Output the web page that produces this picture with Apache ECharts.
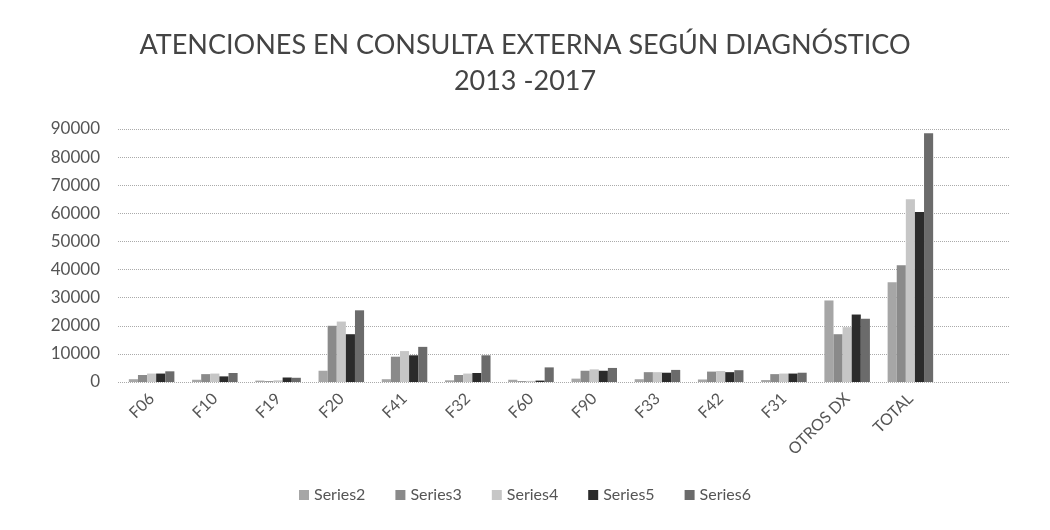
<!DOCTYPE html>
<html>
<head>
<meta charset="utf-8">
<script src="https://cdn.jsdelivr.net/npm/echarts@6/dist/echarts.min.js"></script>
<style>
  html, body { margin: 0; padding: 0; background: #fff; }
  #chart { width: 1050px; height: 530px; }
</style>
</head>
<body>
<div id="chart"></div>
<script>
const titleLine1 = 'ATENCIONES EN CONSULTA EXTERNA SEGÚN DIAGNÓSTICO';
const titleLine2 = '2013 -2017';
const categories = ['F06', 'F10', 'F19', 'F20', 'F41', 'F32', 'F60', 'F90', 'F33', 'F42', 'F31', 'OTROS DX', 'TOTAL'];
const seriesNames = ['Series2', 'Series3', 'Series4', 'Series5', 'Series6'];
const series2 = [1000, 800, 500, 4000, 1000, 600, 800, 1200, 1000, 900, 700, 29000, 35500];
const series3 = [2500, 2800, 300, 20000, 9000, 2500, 300, 4000, 3500, 3700, 2800, 17000, 41500];
const series4 = [3000, 3000, 600, 21500, 11000, 3000, 400, 4500, 3500, 3900, 3000, 19500, 65000];
const series5 = [3000, 2000, 1600, 17000, 9500, 3200, 500, 4000, 3300, 3500, 3000, 24000, 60500];
const series6 = [3800, 3200, 1500, 25500, 12500, 9500, 5200, 5000, 4300, 4200, 3300, 22500, 88500];
const yTicks = { min: 0, max: 90000, interval: 10000 };
const seriesValues = [series2, series3, series4, series5, series6];
const colors = ['#a6a6a6', '#8a8a8a', '#c6c6c6', '#2b2b2b', '#6b6b6b'];

const font = 'Lato, "Noto Sans", sans-serif';
const chart = echarts.init(document.getElementById('chart'));
chart.setOption({
  animation: false,
  backgroundColor: '#fff',
  title: {
    text: titleLine1 + '\n' + titleLine2,
    left: 'center',
    top: 22,
    textStyle: { fontFamily: font, fontSize: 27, fontWeight: 'normal', color: '#444', lineHeight: 36 }
  },
  legend: {
    data: seriesNames,
    bottom: 22,
    left: 'center',
    itemWidth: 10,
    itemHeight: 10,
    itemGap: 30,
    icon: 'rect',
    textStyle: { fontFamily: font, fontSize: 16, color: '#555' }
  },
  grid: [
    { left: 118, right: 40, top: 129, bottom: 148 },
    { left: 120, right: 108, top: 129, bottom: 148 }
  ],
  xAxis: [
    { gridIndex: 0, type: 'category', data: categories, show: false },
    {
      gridIndex: 1, type: 'category', data: categories,
      axisLine: { show: false }, axisTick: { show: false },
      axisLabel: { rotate: 45, margin: 14, interval: 0, fontFamily: font, fontSize: 16, color: '#555' }
    }
  ],
  yAxis: [
    {
      gridIndex: 0, type: 'value', min: yTicks.min, max: yTicks.max, interval: yTicks.interval,
      axisLine: { show: false }, axisTick: { show: false },
      axisLabel: { margin: 18, fontFamily: font, fontSize: 17, color: '#555', formatter: v => String(v) },
      splitLine: { lineStyle: { color: '#aaa', type: 'dotted', width: 1 } }
    },
    {
      gridIndex: 1, type: 'value', min: yTicks.min, max: yTicks.max, interval: yTicks.interval,
      show: false, splitLine: { show: false }
    }
  ],
  series: seriesNames.map((name, i) => ({
    name: name,
    type: 'bar',
    xAxisIndex: 1,
    yAxisIndex: 1,
    data: seriesValues[i],
    barGap: '0%',
    barCategoryGap: '28%',
    itemStyle: { color: colors[i] }
  })),
  color: colors
});
</script>
</body>
</html>
